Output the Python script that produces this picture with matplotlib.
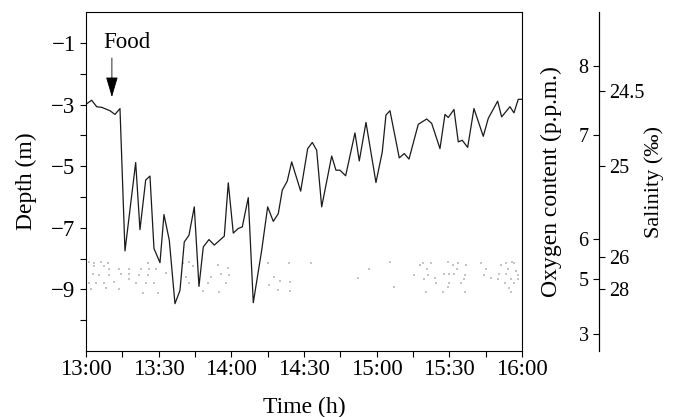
import numpy as np
import matplotlib
matplotlib.use("Agg")
import matplotlib.pyplot as plt
from matplotlib.ticker import MultipleLocator, FixedLocator, FuncFormatter

plt.rcParams['font.family'] = ['Liberation Serif', 'DejaVu Serif']

# depth trace: minutes after 13:00, depth (m)
time_min = [0.0, 2.35, 4.42, 6.48, 9.91, 11.97, 14.04, 16.10, 20.52, 22.29,
            24.65, 26.42, 28.07, 30.55, 32.20, 34.39, 36.74, 38.81, 40.58, 42.52,
            44.71, 46.65, 48.43, 50.78, 52.97, 57.10, 58.75, 60.81, 62.88, 64.53,
            67.00, 69.07, 72.54, 75.01, 77.33, 79.39, 81.04, 83.11, 84.92, 88.64,
            91.53, 93.43, 95.24, 97.31, 101.44, 103.21, 104.86, 107.21, 111.05, 112.83,
            115.60, 119.72, 122.32, 123.85, 125.50, 129.34, 131.41, 133.35, 137.19, 140.66,
            142.72, 146.15, 148.21, 149.57, 151.93, 153.70, 155.35, 157.58, 160.18, 164.02,
            166.08, 169.96, 171.61, 175.04, 176.69, 178.47, 180.0]
depth = [-2.99, -2.86, -3.07, -3.09, -3.20, -3.32, -3.13, -7.75, -4.88, -7.06,
         -5.45, -5.32, -7.67, -8.13, -6.57, -7.40, -9.46, -9.03, -7.46, -7.24,
         -6.32, -8.90, -7.62, -7.38, -7.56, -7.27, -5.54, -7.17, -7.02, -6.97,
         -6.02, -9.43, -7.73, -6.32, -6.79, -6.54, -5.78, -5.48, -4.86, -5.81,
         -4.43, -4.23, -4.48, -6.32, -4.67, -5.13, -5.13, -5.31, -3.92, -4.83,
         -3.58, -5.53, -4.54, -3.34, -3.20, -4.73, -4.59, -4.77, -3.64, -3.47,
         -3.61, -4.43, -3.32, -3.42, -3.16, -4.21, -4.16, -4.39, -3.13, -4.03,
         -3.45, -2.89, -3.40, -3.07, -3.27, -2.83, -2.83]

# faint echo speckles in the -8..-9 m band
dot_time = [1.4, 3.4, 6.2, 8.9, 25.5, 3.4, 7.6, 9.6, 13.8, 17.9, 22.7, 26.1, 28.9,
            2.8, 5.5, 9.6, 14.4, 17.9, 22.0, 25.5, 33.0, 1.4, 4.1, 7.6, 11.7, 17.9,
            20.6, 24.8, 28.2, 39.9, 42.7, 44.0, 54.4, 58.5, 55.7, 59.2, 41.3, 51.6,
            42.7, 50.2, 57.8, 2.1, 8.3, 13.8, 23.4, 29.6, 48.2, 55.0,
            75.3, 83.9, 92.9, 77.5, 80.2, 84.3, 75.7, 79.1, 84.2, 116.9, 112.1,
            125.5, 137.7, 139.0, 142.5, 149.4, 151.4, 153.5, 156.9, 163.1, 171.4,
            173.4, 175.9, 176.9, 140.7, 153.2, 165.2, 174.1, 177.6, 135.6, 141.1,
            148.0, 150.0, 152.1, 156.5, 164.5, 170.7, 173.4, 178.3, 139.7, 144.3,
            156.2, 167.2, 170.0, 175.5, 178.3, 144.5, 149.8, 154.9, 172.8, 176.9,
            127.3, 149.4, 174.8, 140.4, 147.6, 156.5, 175.5]
dot_depth = [-8.11, -8.13, -8.11, -8.13, -8.13, -8.24, -8.24, -8.33, -8.33, -8.33, -8.33, -8.33, -8.35,
             -8.51, -8.53, -8.53, -8.51, -8.51, -8.53, -8.53, -8.45, -8.78, -8.78, -8.80, -8.75, -8.65,
             -8.78, -8.78, -8.80, -8.13, -8.11, -8.24, -8.22, -8.29, -8.51, -8.53, -8.59, -8.59,
             -8.78, -8.78, -8.80, -8.97, -8.95, -8.97, -9.11, -9.11, -9.05, -9.07,
             -8.13, -8.13, -8.13, -8.61, -8.73, -8.77, -8.84, -9.03, -9.05, -8.35, -8.63,
             -8.11, -8.22, -8.13, -8.13, -8.11, -8.22, -8.13, -8.22, -8.13, -8.22,
             -8.13, -8.11, -8.13, -8.35, -8.35, -8.35, -8.35, -8.40, -8.53, -8.53,
             -8.51, -8.51, -8.49, -8.53, -8.53, -8.51, -8.51, -8.53, -8.65, -8.64,
             -8.65, -8.64, -8.65, -8.65, -8.65, -8.78, -8.78, -8.78, -8.80, -8.80,
             -8.92, -8.92, -8.95, -9.07, -9.07, -9.07, -9.07]

# right-hand scales (non-linear), placed at depth positions
oxygen_labels = ['8', '7', '6', '5', '3']
oxygen_at_depth = [-1.75, -4.0, -7.37, -8.67, -10.45]
salinity_labels = ['24.5', '25', '26', '28']
salinity_at_depth = [-2.56, -5.0, -7.95, -9.0]

fig = plt.figure(figsize=(6.77, 4.17), dpi=100)
ax = fig.add_axes([0.127, 0.158, 0.644, 0.813])

ax.scatter(dot_time, dot_depth, s=1.0, marker='s', color='#c4c4c4', linewidths=0)
ax.plot(time_min, depth, color='#1a1a1a', lw=0.9)

ax.set_xlim(0, 180)
ax.set_ylim(-11, 0)
ax.xaxis.set_major_locator(MultipleLocator(30))
ax.xaxis.set_minor_locator(MultipleLocator(15))
ax.xaxis.set_major_formatter(FuncFormatter(lambda v, p: '%d:%02d' % (13 + int(v) // 60, int(v) % 60)))
ax.yaxis.set_major_locator(FixedLocator([-1, -3, -5, -7, -9]))
ax.yaxis.set_minor_locator(FixedLocator([-2, -4, -6, -8, -10]))
ax.yaxis.set_major_formatter(FuncFormatter(lambda v, p: '\u2212%d' % abs(v)))
ax.tick_params(which='both', direction='out', length=4, width=0.8, labelsize=16.5)
ax.tick_params(axis='x', which='both', pad=2)
ax.set_xlabel('Time (h)', fontsize=17, labelpad=12)
ax.set_ylabel('Depth (m)', fontsize=17, labelpad=10)
for s in ax.spines.values():
    s.set_linewidth(0.8)

ax.annotate('', xy=(10.7, -2.85), xytext=(10.7, -1.4),
            arrowprops=dict(arrowstyle='-|>,head_length=0.85,head_width=0.25',
                            mutation_scale=15, color='black', lw=0.6))
ax.text(16.8, -1.0, 'Food', fontsize=16.5, ha='center', va='center')

# oxygen scale: ticks and labels on the left of a shared outer spine
axo = ax.twinx()
axo.set_ylim(ax.get_ylim())
for k in axo.spines:
    axo.spines[k].set_visible(False)
axo.spines['left'].set_visible(True)
axo.spines['left'].set_position(('axes', 1.1766))
axo.spines['left'].set_linewidth(0.8)
axo.yaxis.set_ticks_position('left')
axo.yaxis.set_label_position('left')
axo.set_yticks(oxygen_at_depth)
axo.set_yticklabels(oxygen_labels)
axo.tick_params(direction='out', length=4, width=0.8, labelsize=14.5)
axo.set_ylabel('Oxygen content (p.p.m.)', fontsize=17, labelpad=12)

# salinity scale: ticks and labels on the right of the same spine
axs = ax.twinx()
axs.set_ylim(ax.get_ylim())
for k in axs.spines:
    axs.spines[k].set_visible(False)
axs.spines['right'].set_visible(True)
axs.spines['right'].set_position(('axes', 1.1766))
axs.spines['right'].set_linewidth(0.8)
axs.set_yticks(salinity_at_depth)
axs.set_yticklabels(salinity_labels)
axs.tick_params(direction='out', length=4, width=0.8, labelsize=14.5)
axs.set_ylabel('Salinity (\u2030)', fontsize=16, labelpad=0)

fig.savefig('out.png', dpi=100)
